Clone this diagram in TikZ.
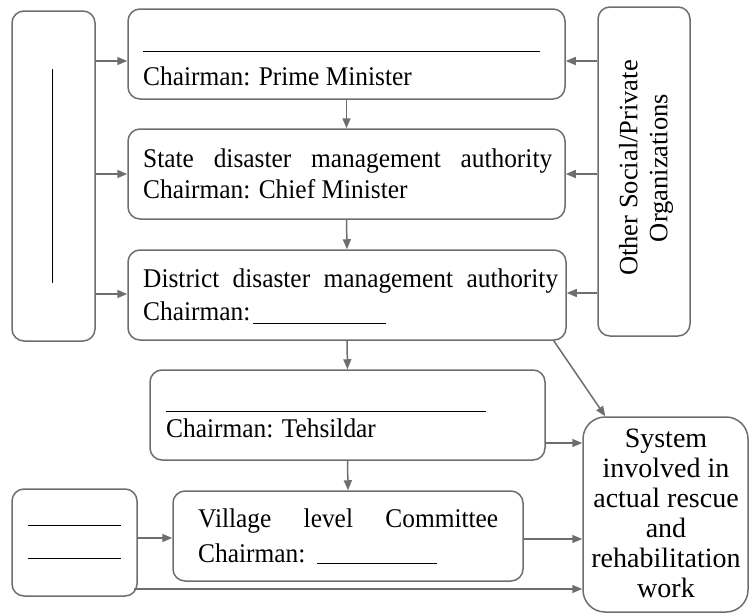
\documentclass[tikz,border=0pt]{standalone}
\usepackage{fontspec}
\setmainfont{Liberation Serif}
\newfontfamily\boxfont{Liberation Serif}[FakeStretch=0.94]
\usetikzlibrary{arrows.meta,calc}
\definecolor{ln}{RGB}{110,110,110}
\newcommand\fs{\boxfont\fontsize{27}{31}\selectfont}
\begin{document}
\begin{tikzpicture}[x=1pt,y=-1pt,
  box/.style={draw=ln,line width=1.5pt,rounded corners=12pt,inner sep=0pt},
  txt/.style={inner sep=0pt,font=\fs,anchor=base west},
  arr/.style={draw=ln,line width=1.5pt,-{Triangle[length=10pt,width=8pt]}},
  blank/.style={draw=black,line width=1pt}]
\fill[white] (0,0) rectangle (749,613);
\useasboundingbox (0,0) rectangle (749,613);

% boxes
\node[box,minimum width=83pt,minimum height=330pt] (L) at (53.5,176) {};
\node[box,minimum width=437pt,minimum height=90pt] (B1) at (346.5,54) {};
\node[box,minimum width=437pt,minimum height=90pt] (B2) at (346.5,174) {};
\node[box,minimum width=438pt,minimum height=90pt] (B3) at (347,295) {};
\node[box,minimum width=92pt,minimum height=329pt] (R) at (644,171.5) {};
\node[box,minimum width=395pt,minimum height=90pt] (B4) at (347.5,415) {};
\node[box,minimum width=350pt,minimum height=90pt] (B5) at (348,536) {};
\node[box,minimum width=125pt,minimum height=107pt] (SB) at (74.5,542.5) {};
\node[box,rounded corners=22pt,minimum width=165pt,minimum height=195pt] (S) at (665.5,514.5) {};

% texts
\node[txt] (t1) at (143,85) {Chairman: Prime Minister};
\node[txt] (t2a) at (143,167) {\makebox[409pt][s]{State disaster management authority}};
\node[txt] (t2b) at (143,198) {Chairman: Chief Minister};
\node[txt] (t3a) at (143,287) {\makebox[415pt][s]{District disaster management authority}};
\node[txt] (t3b) at (143,320) {Chairman:};
\node[txt] (t4) at (166,437) {Chairman: Tehsildar};
\node[txt] (t5a) at (198,527) {\makebox[300pt][s]{Village level Committee}};
\node[txt] (t5b) at (198,562) {Chairman:};
\node[inner sep=0pt,font=\fontsize{26.5}{30}\selectfont,rotate=90,align=center] (tR) at (646,168) {Other Social/Private\\Organizations};
\node[inner sep=0pt,font=\fontsize{28}{30}\selectfont,align=center] (tS) at (666,513) {System\\involved in\\actual rescue\\and\\rehabilitation\\work};

% blanks
\coordinate (b1s) at (143,51); \coordinate (b1e) at (540,51);
\draw[blank] (b1s) -- (b1e);
\coordinate (b3s) at (253,323); \coordinate (b3e) at (386,323);
\draw[blank] (b3s) -- (b3e);
\coordinate (b4s) at (166,411); \coordinate (b4e) at (486,411);
\draw[blank] (b4s) -- (b4e);
\coordinate (b5s) at (317,563); \coordinate (b5e) at (437,563);
\draw[blank] (b5s) -- (b5e);
\coordinate (bLs) at (52,69); \coordinate (bLe) at (52,283);
\draw[blank] (bLs) -- (bLe);
\coordinate (bS1s) at (28,525); \coordinate (bS1e) at (121,525);
\draw[blank] (bS1s) -- (bS1e);
\coordinate (bS2s) at (28,558); \coordinate (bS2e) at (121,558);
\draw[blank] (bS2s) -- (bS2e);

% connectors
\draw[arr] (L.east |- {(0,61)}) -- (B1.west |- {(0,61)});
\draw[arr] (L.east |- {(0,174)}) -- (B2.west |- {(0,174)});
\draw[arr] (L.east |- {(0,294)}) -- (B3.west |- {(0,294)});
\draw[arr] (R.west |- {(0,61)}) -- (B1.east |- {(0,61)});
\draw[arr] (R.west |- {(0,174)}) -- (B2.east |- {(0,174)});
\draw[arr] (R.west |- {(0,293)}) -- (B3.east |- {(0,293)});
\draw[arr] (B1.south) -- (B2.north);
\draw[arr] (B2.south) -- (B3.north);
\draw[arr] (B3.south) -- (B4.north);
\draw[arr] (B4.south) -- (B5.north);
\draw[arr] ($(B3.south east)+(-13,0)$) -- ($(S.north west)+(23,0)$);
\draw[arr] (B4.east |- {(0,443)}) -- (S.west |- {(0,443)});
\draw[arr] (B5.east |- {(0,539)}) -- (S.west |- {(0,539)});
\draw[arr] (SB.east |- {(0,538)}) -- (B5.west |- {(0,538)});
\draw[arr] ($(SB.east |- {(0,589)})+(-4,0)$) -- (S.west |- {(0,589)});
\end{tikzpicture}
\end{document}
